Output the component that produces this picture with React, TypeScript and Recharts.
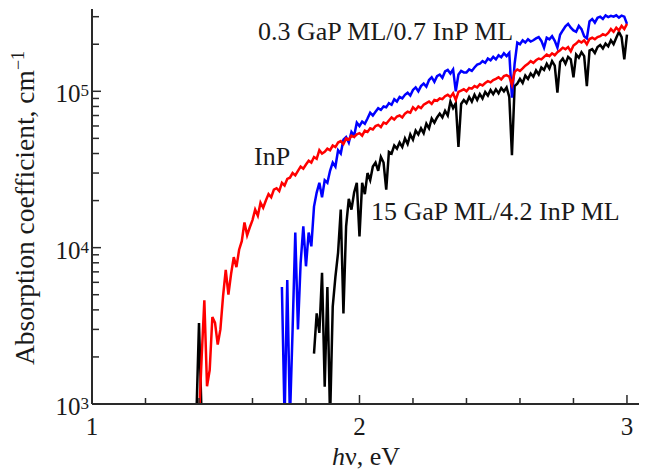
import { LineChart, Line, XAxis, YAxis } from "recharts";

// photon energy, eV
const energy = [
  1.39,
  1.4, 1.41, 1.42, 1.43, 1.44, 1.45, 1.46, 1.47, 1.48, 1.49,
  1.5, 1.51, 1.52, 1.53, 1.54, 1.55, 1.56, 1.57, 1.58, 1.59,
  1.6, 1.61, 1.62, 1.63, 1.64, 1.65, 1.66, 1.67, 1.68, 1.69,
  1.7, 1.71, 1.72, 1.73, 1.74, 1.75, 1.76, 1.77, 1.78, 1.79,
  1.8, 1.81, 1.82, 1.83, 1.84, 1.85, 1.86, 1.87, 1.88, 1.89,
  1.9, 1.91, 1.92, 1.93, 1.94, 1.95, 1.96, 1.97, 1.98, 1.99,
  2.0, 2.01, 2.02, 2.03, 2.04, 2.05, 2.06, 2.07, 2.08, 2.09,
  2.1, 2.11, 2.12, 2.13, 2.14, 2.15, 2.16, 2.17, 2.18, 2.19,
  2.2, 2.21, 2.22, 2.23, 2.24, 2.25, 2.26, 2.27, 2.28, 2.29,
  2.3, 2.31, 2.32, 2.33, 2.34, 2.35, 2.36, 2.37, 2.38, 2.39,
  2.4, 2.41, 2.42, 2.43, 2.44, 2.45, 2.46, 2.47, 2.48, 2.49,
  2.5, 2.51, 2.52, 2.53, 2.54, 2.55, 2.56, 2.57, 2.58, 2.59,
  2.6, 2.61, 2.62, 2.63, 2.64, 2.65, 2.66, 2.67, 2.68, 2.69,
  2.7, 2.71, 2.72, 2.73, 2.74, 2.75, 2.76, 2.77, 2.78, 2.79,
  2.8, 2.81, 2.82, 2.83, 2.84, 2.85, 2.86, 2.87, 2.88, 2.89,
  2.9, 2.91, 2.92, 2.93, 2.94, 2.95, 2.96, 2.97, 2.98, 2.99,
  3.0,
];

// absorption coefficient, 10^3 cm^-1 (null = no data)
const inpK = [
  null,
  0.8, 2.0, 4.6, 1.3, 1.65, 3.6, 3.3, 2.4, 3.0, 4.9,
  7.2, 5.0, 6.8, 8.7, 7.5, 9.7, 11, 14.5, 12, 13.5,
  15, 17.5, 16, 19.4, 18, 20, 22, 21, 23.5, 24,
  23, 26, 25, 27.5, 28, 30, 29, 31, 33, 32,
  34, 36, 35, 38, 37, 42, 40, 41, 43, 42,
  45, 44, 47, 48, 46, 50, 49, 52, 51, 53,
  54, 52, 56, 55, 58, 57, 60, 61, 59, 63,
  62, 65, 68, 66, 69, 70, 68, 72, 74, 73,
  79, 76, 80, 78, 82, 84, 86, 83, 88, 87,
  90, 89, 93, 95, 92, 97, 88, 99, 101, 103,
  100, 105, 104, 108, 106, 111, 109, 113, 116, 114,
  118, 120, 123, 119, 125, 127, 124, 110, 133, 138,
  135, 140, 146, 150, 156, 152, 158, 162, 160, 166,
  172, 168, 175, 170, 178, 183, 190, 186, 192, 180,
  196, 202, 210, 205, 212, 200, 216, 220, 215, 222,
  225, 232, 228, 236, 250, 240, 255, 245, 262, 250,
  270,
];

// 0.3 GaP ML/0.7 InP ML
const thinK = [
  null,
  null, null, null, null, null, null, null, null, null, null,
  null, null, null, null, null, null, null, null, null, null,
  null, null, null, null, null, null, null, null, null, null,
  null, 5.6, 0.8, 6.2, 0.8, 3.0, 12.5, 3.0, 8.0, 13.7,
  7.6, 12.5, 10.2, 18.3, 22.5, 26, 21, 27, 26, 31,
  35, 33, 42, 40, 49, 51, 47, 55, 52, 63,
  60, 64, 62, 67, 73, 70, 74, 78, 76, 80,
  79, 84, 82, 89, 86, 92, 90, 95, 98, 94,
  102, 106, 100, 108, 112, 107, 118, 123, 115, 125,
  128, 122, 134, 137, 130, 138, 100, 128, 135, 132,
  132, 138, 135, 142, 148, 150, 156, 152, 162, 158,
  166, 160, 170, 165, 175, 168, 176, 91, 150, 205,
  200, 212, 205, 215, 208, 212, 218, 222, 210, 190,
  220, 215, 225, 210, 190, 230, 245, 260, 270, 255,
  245, 240, 262, 250, 225, 218, 280, 290, 275, 295,
  300, 290, 306, 298, 304, 300, 306, 296, 305, 300,
  270,
];

// 15 GaP ML/4.2 InP ML
const thickK = [
  0.8,
  3.3, 0.8, null, null, null, null, null, null, null, null,
  null, null, null, null, null, null, null, null, null, null,
  null, null, null, null, null, null, null, null, null, null,
  null, null, null, null, null, null, null, null, null, null,
  null, null, null, 2.1, 3.8, 2.85, 6.9, 1.29, 5.6, 0.8,
  4.2, 6.5, 9.3, 17.5, 3.8, 13.7, 20.5, 17.5, 22.5, 26,
  11.8, 26, 22, 30, 27, 33, 35, 31, 38, 35,
  23.5, 41, 40, 45, 43, 47, 44, 50, 46, 53,
  49, 56, 53, 58, 54, 62, 58, 67, 63, 68,
  72, 68, 75, 70, 86, 78, 84, 44, 83, 88,
  84, 92, 86, 95, 88, 96, 90, 99, 94, 102,
  96, 103, 97, 105, 100, 106, 92, 39, 108, 112,
  120, 113, 126, 120, 130, 124, 136, 128, 142, 137,
  150, 140, 156, 146, 98, 154, 162, 150, 166, 160,
  123, 172, 164, 178, 168, 108, 182, 186, 176, 192,
  198, 188, 202, 194, 212, 200, 220, 240, 222, 160,
  230,
];

const xTicks = [1, 1.2, 1.4, 1.6, 1.8, 2, 2.2, 2.4, 2.6, 2.8, 3];
const xLabels = [1, 2, 3];
const yTicks = [
  1000, 2000, 3000, 4000, 5000, 6000, 7000, 8000, 9000,
  10000, 20000, 30000, 40000, 50000, 60000, 70000, 80000, 90000,
  100000, 200000, 300000,
];
const yLabels = [1000, 10000, 100000];

const toCm = (v: number | null) => (v == null ? null : v * 1000);
const rows = energy.map((e, i) => ({
  e,
  inp: toCm(inpK[i]),
  thin: toCm(thinK[i]),
  thick: toCm(thickK[i]),
}));

const font = "'Liberation Serif', 'Times New Roman', serif";
const axisColor = "#2a2a2a";
const textColor = "#1a1a1a";

function XTick({ x, y, payload }: any) {
  const major = xLabels.includes(payload.value);
  return (
    <g>
      <line x1={x} x2={x} y1={y} y2={y - (major ? 9 : 6)} stroke={axisColor} strokeWidth={1.5} />
      {major && (
        <text x={x} y={y + 31} textAnchor="middle" fontFamily={font} fontSize={25} fill={textColor}>
          {payload.value}
        </text>
      )}
    </g>
  );
}

function YTick({ x, y, payload }: any) {
  const major = yLabels.includes(payload.value);
  const exp = Math.round(Math.log10(payload.value));
  return (
    <g>
      <line x1={x} x2={x + (major ? 9 : 7)} y1={y} y2={y} stroke={axisColor} strokeWidth={1.5} />
      {major && (
        <text x={x - 3} y={y + 11} textAnchor="end" fontFamily={font} fontSize={25} fill={textColor}>
          <tspan>10</tspan>
          <tspan dy={-6} fontSize={17}>{exp}</tspan>
        </text>
      )}
    </g>
  );
}

export default function App() {
  return (
    <div style={{ position: "relative", width: 648, height: 470, background: "#fff" }}>
      <style>{"body{margin:0}"}</style>
      <LineChart width={648} height={470} data={rows} margin={{ top: 9, right: 9, left: 0, bottom: 0 }}>
        <XAxis
          dataKey="e"
          type="number"
          domain={[1, 3.045]}
          ticks={xTicks}
          interval={0}
          height={66}
          tickSize={0}
          tickMargin={0}
          tickLine={false}
          tick={<XTick />}
          axisLine={{ stroke: axisColor, strokeWidth: 2 }}
          allowDataOverflow
        />
        <YAxis
          type="number"
          scale="log"
          domain={[1000, 336000]}
          ticks={yTicks}
          interval={0}
          width={92}
          tickSize={0}
          tickMargin={0}
          tickLine={false}
          tick={<YTick />}
          axisLine={{ stroke: axisColor, strokeWidth: 2 }}
          allowDataOverflow
        />
        <Line dataKey="thick" stroke="#000000" strokeWidth={2.5} dot={false} isAnimationActive={false} />
        <Line dataKey="thin" stroke="#0000ff" strokeWidth={2.5} dot={false} isAnimationActive={false} />
        <Line dataKey="inp" stroke="#ff0000" strokeWidth={2.5} dot={false} isAnimationActive={false} />
      </LineChart>
      <svg
        width={648}
        height={470}
        style={{ position: "absolute", left: 0, top: 0, pointerEvents: "none" }}
        fontFamily={font}
        fill={textColor}
      >
        <text x={258} y={40} fontSize={26}>0.3 GaP ML/0.7 InP ML</text>
        <text x={254} y={165} fontSize={26}>InP</text>
        <text x={371} y={220} fontSize={26}>15 GaP ML/4.2 InP ML</text>
        <text x={366} y={465} fontSize={26} textAnchor="middle">
          <tspan fontStyle="italic">h</tspan>
          <tspan>ν, eV</tspan>
        </text>
        <text x={34} y={208} fontSize={27.5} textAnchor="middle" transform="rotate(-90 34 208)">
          <tspan>Absorption coefficient, cm</tspan>
          <tspan dy={-10} fontSize={18}>−1</tspan>
        </text>
      </svg>
    </div>
  );
}
